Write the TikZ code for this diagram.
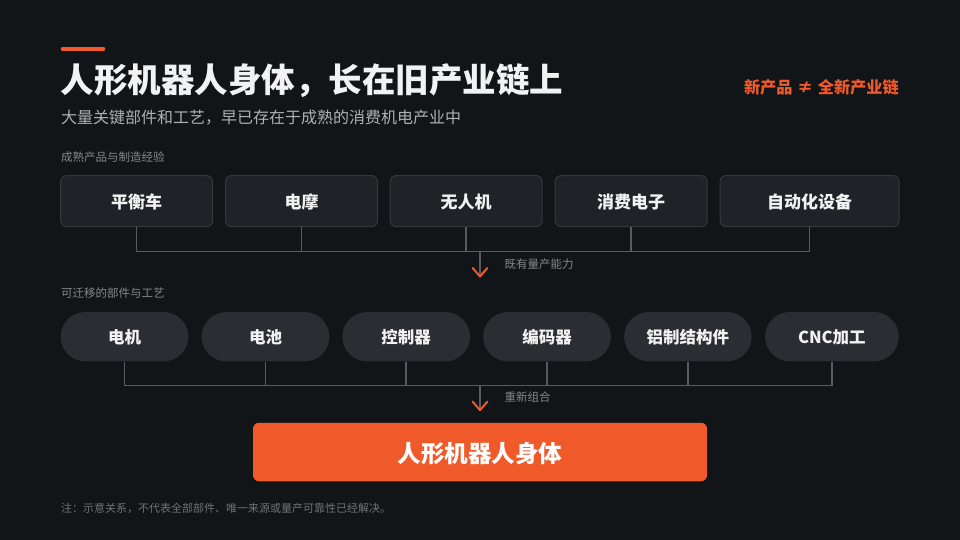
\documentclass[tikz,border=0pt]{standalone}
\usepackage{fontspec}
\setmainfont{Noto Sans CJK SC}
\usetikzlibrary{calc}
\definecolor{bg}{HTML}{121518}
\definecolor{accent}{HTML}{F05A2A}
\definecolor{boxfill}{HTML}{1F2327}
\definecolor{boxline}{HTML}{34383C}
\definecolor{pillfill}{HTML}{2A2E32}
\definecolor{conncol}{HTML}{575B5F}
\definecolor{titlecol}{HTML}{F2F2F2}
\definecolor{subcol}{HTML}{AEB0B2}
\definecolor{labcol}{HTML}{85888B}
\definecolor{notecol}{HTML}{6E7276}
\tikzset{
  rowbox/.style={draw=boxline, line width=1pt, fill=boxfill, rounded corners=6pt,
    minimum height=51pt, inner sep=0pt, text depth=0pt, text=titlecol, font=\fontsize{17}{20}\selectfont\bfseries},
  pillbox/.style={fill=pillfill, rounded corners=24.6pt, minimum height=49.3pt,
    minimum width=127.6pt, inner sep=0pt, text depth=0pt, text=titlecol, font=\fontsize{16.5}{20}\selectfont\bfseries},
  conn/.style={draw=conncol, line width=1.5pt},
  chev/.style={draw=accent, line width=2pt, line cap=round, line join=round},
  seclabel/.style={anchor=west, inner sep=0pt, text=labcol, font=\fontsize{11.5}{14}\selectfont},
}
\begin{document}
\begin{tikzpicture}[x=1pt,y=-1pt]
\useasboundingbox (0,0) rectangle (960,540);
\fill[bg] (0,0) rectangle (960,540);
% accent bar
\draw[accent, line width=4pt, line cap=round] (62.7,48.7) coordinate (abL) -- (103.3,48.7) coordinate (abR);
% titles
\node[anchor=west, inner sep=0pt, text=titlecol, font=\fontsize{33.5}{38}\selectfont\bfseries] (title) at (60.5,81) {人形机器人身体，长在旧产业链上};
\node[anchor=west, inner sep=0pt, text=subcol, font=\fontsize{16}{19}\selectfont] (subtitle) at (61,117.5) {大量关键部件和工艺，早已存在于成熟的消费机电产业中};
\node[anchor=east, inner sep=0pt, text=accent, font=\fontsize{16.2}{19}\selectfont\bfseries] (tag) at (899,87) {新产品\hspace{4.5pt}≠\hspace{4.5pt}全新产业链};
% section 1
\node[seclabel] (sec1) at (61,157.3) {成熟产品与制造经验};
\node[rowbox, minimum width=152pt] (b1) at (136.7,201.1) {平衡车};
\node[rowbox, minimum width=152pt] (b2) at (301.5,201.1) {电摩};
\node[rowbox, minimum width=152pt] (b3) at (466.2,201.1) {无人机};
\node[rowbox, minimum width=152pt] (b4) at (631.2,201.1) {消费电子};
\node[rowbox, minimum width=179pt] (b5) at (809.5,201.1) {自动化设备};
\coordinate (j1) at (480,251.5);
\coordinate (t1) at (480,276.5);
\foreach \n in {b1,b2,b3,b4,b5} { \draw[conn] (\n.south) -- (\n.south |- j1); }
\draw[conn] (b1.south |- j1) -- (b5.south |- j1);
\draw[conn] (j1) -- (t1);
\draw[chev] ($(t1)+(-7.3,-8.5)$) -- (t1) -- ($(t1)+(7.3,-8.5)$);
\node[seclabel] (lab1) at (504.3,263.7) {既有量产能力};
% section 2
\node[seclabel] (sec2) at (61,293.3) {可迁移的部件与工艺};
\node[pillbox] (p1) at (124.5,336.7) {电机};
\node[pillbox] (p2) at (265.5,336.7) {电池};
\node[pillbox] (p3) at (406.2,336.7) {控制器};
\node[pillbox] (p4) at (547,336.7) {编码器};
\node[pillbox] (p5) at (687.9,336.7) {铝制结构件};
\node[pillbox, minimum width=133.7pt] (p6) at (831.9,336.7) {CNC加工};
\coordinate (j2) at (480,385.7);
\coordinate (t2) at (480,410.2);
\foreach \n in {p1,p2,p3,p4,p5,p6} { \draw[conn] (\n.south) -- (\n.south |- j2); }
\draw[conn] (p1.south |- j2) -- (p6.south |- j2);
\draw[conn] (j2) -- (t2);
\draw[chev] ($(t2)+(-7.3,-8.5)$) -- (t2) -- ($(t2)+(7.3,-8.5)$);
\node[seclabel] (lab2) at (504.3,397.3) {重新组合};
% result
\node[fill=accent, rounded corners=6pt, minimum width=454pt, minimum height=58.5pt, inner sep=0pt, text depth=0pt,
  text=white, font=\fontsize{23.5}{28}\selectfont\bfseries] (res) at (480,452) {人形机器人身体};
% footnote
\node[anchor=west, inner sep=0pt, text=notecol, font=\fontsize{11}{13}\selectfont] (note) at (61,508) {注：示意关系，不代表全部部件、唯一来源或量产可靠性已经解决。};
\end{tikzpicture}
\end{document}
